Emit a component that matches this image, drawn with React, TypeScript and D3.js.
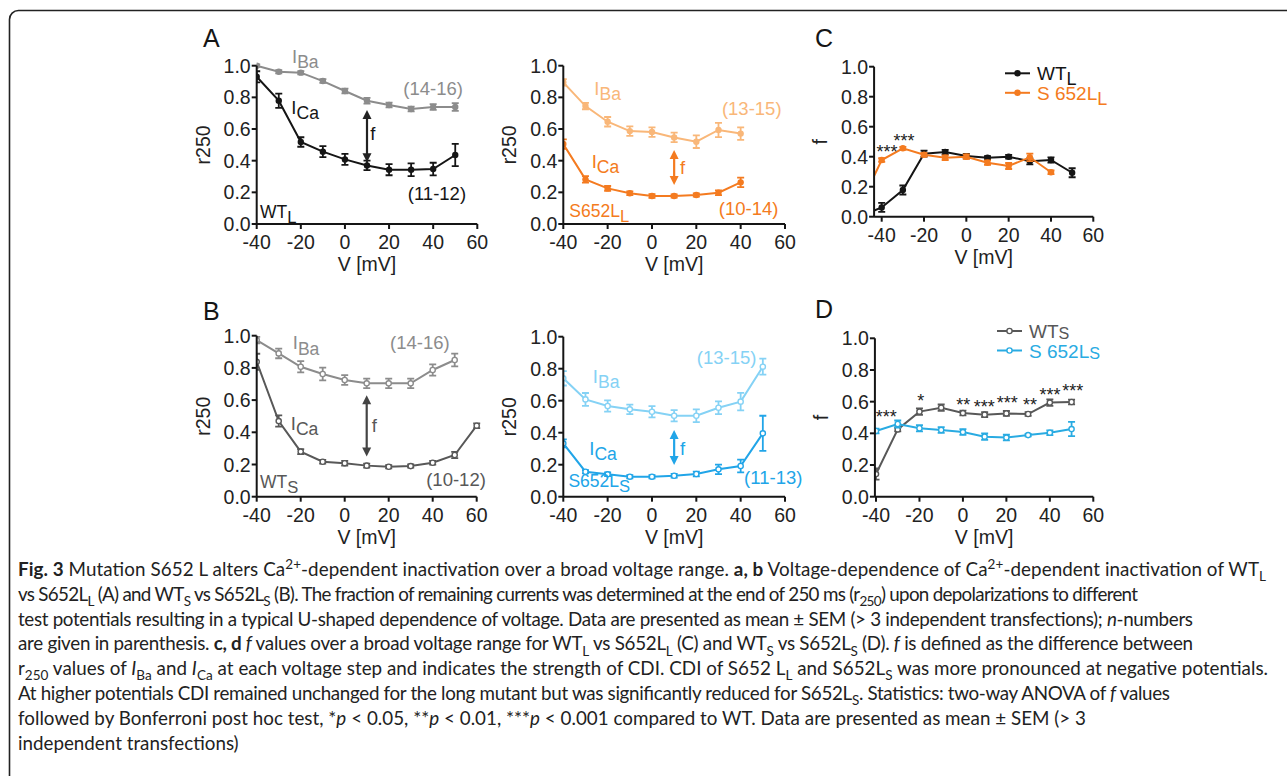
import React from "react";
import * as d3 from "d3";

// voltage steps (mV)
const volts = [-40, -30, -20, -10, 0, 10, 20, 30, 40, 50];
const volts9 = volts.slice(0, 9);
const volts11 = [...volts, 60];
const voltsC = [-45, ...volts]; // curves in C run off the left edge
const voltsC9 = [-45, ...volts9];

// A: WT_L
const wtL_Ba = [1.0, 0.962, 0.956, 0.903, 0.84, 0.779, 0.752, 0.726, 0.739, 0.739];
const wtL_BaSem = [0.008, 0.01, 0.01, 0.012, 0.015, 0.018, 0.015, 0.015, 0.018, 0.025];
const wtL_Ca = [0.93, 0.779, 0.518, 0.457, 0.408, 0.37, 0.343, 0.343, 0.347, 0.436];
const wtL_CaSem = [0.035, 0.045, 0.03, 0.035, 0.035, 0.03, 0.035, 0.04, 0.04, 0.07];

// A: S652L_L
const sL_Ba = [0.895, 0.745, 0.646, 0.587, 0.581, 0.547, 0.52, 0.594, 0.571];
const sL_BaSem = [0.02, 0.02, 0.03, 0.03, 0.03, 0.03, 0.04, 0.045, 0.04];
const sL_Ca = [0.505, 0.282, 0.225, 0.194, 0.177, 0.177, 0.183, 0.198, 0.263];
const sL_CaSem = [0.03, 0.02, 0.015, 0.012, 0.012, 0.01, 0.01, 0.015, 0.03];

// C: f, long variants
const fWTL = [0.032, 0.062, 0.178, 0.42, 0.431, 0.404, 0.393, 0.4, 0.369, 0.378, 0.293];
const fWTLSem = [0, 0.03, 0.03, 0.02, 0.015, 0.015, 0.01, 0.012, 0.02, 0.018, 0.03];
const fSL = [0.23, 0.378, 0.456, 0.413, 0.393, 0.4, 0.36, 0.338, 0.396, 0.296];
const fSLSem = [0, 0.012, 0.01, 0.012, 0.015, 0.015, 0.015, 0.02, 0.025, 0.012];

// B: WT_S
const wtS_Ba = [0.973, 0.89, 0.807, 0.762, 0.725, 0.704, 0.704, 0.704, 0.787, 0.849];
const wtS_BaSem = [0.02, 0.03, 0.035, 0.04, 0.03, 0.03, 0.03, 0.03, 0.035, 0.04];
const wtS_Ca = [0.838, 0.47, 0.28, 0.217, 0.208, 0.193, 0.186, 0.19, 0.211, 0.259, 0.441];
const wtS_CaSem = [0.05, 0.035, 0.015, 0.012, 0.015, 0.012, 0.01, 0.01, 0.012, 0.02, 0.015];

// B: S652L_S
const sS_Ba = [0.74, 0.608, 0.567, 0.546, 0.531, 0.506, 0.506, 0.556, 0.594, 0.8125];
const sS_BaSem = [0.045, 0.04, 0.035, 0.03, 0.035, 0.035, 0.04, 0.04, 0.055, 0.05];
const sS_Ca = [0.333, 0.156, 0.14, 0.125, 0.125, 0.131, 0.142, 0.171, 0.192, 0.396];
const sS_CaSem = [0.025, 0.01, 0.012, 0.01, 0.01, 0.012, 0.015, 0.03, 0.04, 0.11];

// D: f, short variants
const fWTS = [0.143, 0.425, 0.537, 0.562, 0.528, 0.518, 0.526, 0.522, 0.594, 0.598];
const fWTSSem = [0.035, 0.012, 0.02, 0.02, 0.015, 0.015, 0.015, 0.012, 0.02, 0.015];
const fSLS = [0.415, 0.459, 0.432, 0.421, 0.408, 0.379, 0.373, 0.389, 0.404, 0.427];
const fSLSSem = [0.015, 0.022, 0.02, 0.018, 0.018, 0.02, 0.018, 0.008, 0.015, 0.045];

// significance marks [V, f at centre of the stars, text]
const starsC = [[-37.5, 0.456, "***"], [-29.5, 0.529, "***"]];
const starsD = [
  [-35.3, 0.526, "***"], [-19.4, 0.63, "*"], [0.2, 0.605, "**"], [9.8, 0.594, "***"],
  [20.4, 0.615, "***"], [30.9, 0.605, "**"], [40.1, 0.67, "***"], [50.5, 0.69, "***"],
];

const xTicks = [-40, -20, 0, 20, 40, 60];
const yTicks = [0, 0.2, 0.4, 0.6, 0.8, 1.0];

const caption = [
  [["Fig. 3", "b"], [" Mutation S652 L alters Ca"], ["2+", "sup"], ["-dependent inactivation over a broad voltage range. "], ["a, b", "b"], [" Voltage-dependence of Ca"], ["2+", "sup"], ["-dependent inactivation of WT"], ["L", "sub"]],
  [["vs S652L"], ["L", "sub"], [" (A) and WT"], ["S", "sub"], [" vs S652L"], ["S", "sub"], [" (B). The fraction of remaining currents was determined at the end of 250 ms (r"], ["250", "sub"], [") upon depolarizations to different"]],
  [["test potentials resulting in a typical U-shaped dependence of voltage. Data are presented as mean ± SEM (> 3 independent transfections); "], ["n", "i"], ["-numbers"]],
  [["are given in parenthesis. "], ["c, d", "b"], [" "], ["f", "i"], [" values over a broad voltage range for WT"], ["L", "sub"], [" vs S652L"], ["L", "sub"], [" (C) and WT"], ["S", "sub"], [" vs S652L"], ["S", "sub"], [" (D). "], ["f", "i"], [" is defined as the difference between"]],
  [["r"], ["250", "sub"], [" values of "], ["I", "i"], ["Ba", "sub"], [" and "], ["I", "i"], ["Ca", "sub"], [" at each voltage step and indicates the strength of CDI. CDI of S652 L"], ["L", "sub"], [" and S652L"], ["S", "sub"], [" was more pronounced at negative potentials."]],
  [["At higher potentials CDI remained unchanged for the long mutant but was significantly reduced for S652L"], ["S", "sub"], [". Statistics: two-way ANOVA of "], ["f", "i"], [" values"]],
  [["followed by Bonferroni post hoc test, *"], ["p", "i"], [" < 0.05, **"], ["p", "i"], [" < 0.01, ***"], ["p", "i"], [" < 0.001 compared to WT. Data are presented as mean ± SEM (> 3"]],
  [["independent transfections)"]],
];
// width of each caption line as set in the figure
const captionWidths = [1248, 1120, 1175, 1175, 1250, 1152, 1068, 0];

const FONT = "'Liberation Sans', Arial, sans-serif";
const CAP_FONT = "Lato, 'Open Sans', sans-serif";

const BLACK = "#151515";
const GRAY = "#8c8c8c";
const DGRAY = "#585858";
const ORANGE = "#f47b20";
const LORANGE = "#f9b779";
const BLUE = "#21a5e8";
const LBLUE = "#85d2f5";

function Rich({ x, y, segs, size, fill, anchor = "start", family = FONT, subScale = 0.95, shift = 0.28, width = 0 }) {
  let cur = 0;
  const spans = segs.map(([t, st], i) => {
    const small = st === "sub" || st === "sup";
    const target = st === "sub" ? shift * size : st === "sup" ? -0.38 * size : 0;
    const dy = target - cur;
    cur = target;
    return (
      <tspan key={i} dy={dy} fontSize={small ? size * subScale : undefined}
        fontWeight={st === "b" ? "bold" : undefined} fontStyle={st === "i" ? "italic" : undefined}>
        {t}
      </tspan>
    );
  });
  return (
    <text x={x} y={y} fontSize={size} fill={fill} textAnchor={anchor} fontFamily={family}
      style={{ whiteSpace: "pre" }} textLength={width || undefined} lengthAdjust={width ? "spacing" : undefined}>
      {spans}
    </text>
  );
}

function Panel({ p, idx }) {
  const x = d3.scaleLinear().domain([-40, 60]).range([p.left, p.right]);
  const y = d3.scaleLinear().domain([0, 1]).range([p.bottom, p.top]);
  const x0 = x(p.xMin);
  const line = d3.line().x((d) => x(d[0])).y((d) => y(d[1]));
  const clipId = `clip-${idx}`;
  const yl = x0 - 47;
  return (
    <g>
      {p.id && <text x={p.letter[0]} y={p.letter[1]} fontSize={25} fontFamily={FONT} fill={BLACK}>{p.id}</text>}
      <clipPath id={clipId}>
        <rect x={x0} y={p.top - 30} width={p.right - x0 + 30} height={p.bottom - p.top + 40} />
      </clipPath>
      <g clipPath={`url(#${clipId})`}>
        {p.series.map((s, k) => (
          <g key={k}>
            <path d={line(s.v.map((v, i) => [v, s.y[i]]))} fill="none" stroke={s.color} strokeWidth={2} />
            {s.v.map((v, i) => s.sem[i] > 0 && (
              <g key={i} stroke={s.color} strokeWidth={1.8}>
                <line x1={x(v)} x2={x(v)} y1={y(s.y[i] - s.sem[i])} y2={y(s.y[i] + s.sem[i])} />
                <line x1={x(v) - 3.5} x2={x(v) + 3.5} y1={y(s.y[i] - s.sem[i])} y2={y(s.y[i] - s.sem[i])} />
                <line x1={x(v) - 3.5} x2={x(v) + 3.5} y1={y(s.y[i] + s.sem[i])} y2={y(s.y[i] + s.sem[i])} />
              </g>
            ))}
            {s.v.map((v, i) => (
              <circle key={i} cx={x(v)} cy={y(s.y[i])} r={s.open ? 2.6 : 3.2}
                fill={s.open ? "#fff" : s.color} stroke={s.color} strokeWidth={s.open ? 1.4 : 0} />
            ))}
          </g>
        ))}
      </g>
      {/* axes */}
      <g stroke={BLACK} strokeWidth={2}>
        <line x1={x0} x2={x(60)} y1={p.bottom} y2={p.bottom} />
        <line x1={x0} x2={x0} y1={p.bottom} y2={y(1)} />
        {xTicks.map((t) => <line key={t} x1={x(t)} x2={x(t)} y1={p.bottom} y2={p.bottom + 5} />)}
        {yTicks.map((t) => <line key={t} x1={x0 - 5} x2={x0} y1={y(t)} y2={y(t)} />)}
      </g>
      <g fontFamily={FONT} fontSize={19.5} fill="#222">
        {xTicks.map((t) => <text key={t} x={x(t)} y={p.bottom + 25} textAnchor="middle">{t}</text>)}
        {yTicks.map((t) => <text key={t} x={x0 - 6} y={y(t) + 7} textAnchor="end">{d3.format(".1f")(t)}</text>)}
        <text x={(x0 + x(60)) / 2} y={p.bottom + 47} textAnchor="middle">V [mV]</text>
        <text x={yl} y={(p.top + p.bottom) / 2} textAnchor="middle"
          transform={`rotate(-90,${yl},${(p.top + p.bottom) / 2})`}>{p.ylabel}</text>
      </g>
      {(p.labels || []).map((l, i) => (
        <Rich key={i} x={x(l.v)} y={y(l.r)} segs={l.segs} size={l.size || 18.5} fill={l.color} anchor={l.anchor || "start"} />
      ))}
      {(p.arrows || []).map((a, i) => {
        const xa = x(a.v), ya = y(a.from), yb = y(a.to);
        return (
          <g key={i} fill={a.color} stroke="none">
            <line x1={xa} x2={xa} y1={ya + 7} y2={yb - 7} stroke={a.color} strokeWidth={2.2} />
            <path d={`M${xa},${ya}L${xa - 4.5},${ya + 9}L${xa + 4.5},${ya + 9}Z`} />
            <path d={`M${xa},${yb}L${xa - 4.5},${yb - 9}L${xa + 4.5},${yb - 9}Z`} />
          </g>
        );
      })}
      {(p.stars || []).map(([v, r, t], i) => (
        <text key={i} x={x(v)} y={y(r) + 10} textAnchor="middle" fontFamily={FONT} fontSize={18} fill="#222">{t}</text>
      ))}
      {p.legend && p.legend.items.map((it, i) => {
        const lx = p.legend.x, ly = p.legend.y + i * 19.5;
        return (
          <g key={i}>
            <line x1={lx} x2={lx + 25} y1={ly} y2={ly} stroke={it.color} strokeWidth={2} />
            <circle cx={lx + 12.5} cy={ly} r={it.open ? 2.6 : 3.2} fill={it.open ? "#fff" : it.color}
              stroke={it.color} strokeWidth={it.open ? 1.4 : 0} />
            <Rich x={lx + 32} y={ly + 7} segs={it.segs} size={19} fill={it.color} shift={it.shift ?? 0.25} subScale={it.subScale ?? 0.95} />
          </g>
        );
      })}
    </g>
  );
}

const panels = [
  {
    id: "A", letter: [203, 47], left: 256.7, right: 477.3, top: 65.7, bottom: 224, xMin: -40, ylabel: "r250",
    series: [
      { v: volts, y: wtL_Ba, sem: wtL_BaSem, color: GRAY },
      { v: volts, y: wtL_Ca, sem: wtL_CaSem, color: BLACK },
    ],
    labels: [
      { v: -24, r: 1.02, segs: [["I"], ["Ba", "sub"]], color: GRAY },
      { v: 40, r: 0.815, segs: [["(14-16)"]], color: GRAY, anchor: "middle" },
      { v: -24.3, r: 0.695, segs: [["I"], ["Ca", "sub"]], color: BLACK },
      { v: 11.5, r: 0.53, segs: [["f"]], color: BLACK },
      { v: 41.7, r: 0.15, segs: [["(11-12)"]], color: BLACK, anchor: "middle" },
      { v: -38.5, r: 0.036, segs: [["WT"], ["L", "sub"]], color: BLACK, size: 17.5 },
    ],
    arrows: [{ v: 10, from: 0.72, to: 0.39, color: "#222" }],
  },
  {
    id: "", letter: [0, 0], left: 563.3, right: 785, top: 65.7, bottom: 224, xMin: -40, ylabel: "r250",
    series: [
      { v: volts9, y: sL_Ba, sem: sL_BaSem, color: LORANGE },
      { v: volts9, y: sL_Ca, sem: sL_CaSem, color: ORANGE },
    ],
    labels: [
      { v: -26, r: 0.815, segs: [["I"], ["Ba", "sub"]], color: LORANGE },
      { v: 45, r: 0.69, segs: [["(13-15)"]], color: LORANGE, anchor: "middle" },
      { v: -27.2, r: 0.354, segs: [["I"], ["Ca", "sub"]], color: ORANGE },
      { v: 12.6, r: 0.316, segs: [["f"]], color: ORANGE },
      { v: 43.6, r: 0.057, segs: [["(10-14)"]], color: ORANGE, anchor: "middle" },
      { v: -37.3, r: 0.046, segs: [["S652L"], ["L", "sub"]], color: ORANGE, size: 17.5 },
    ],
    arrows: [{ v: 10, from: 0.467, to: 0.246, color: ORANGE }],
  },
  {
    id: "C", letter: [815, 47], left: 881.7, right: 1093.3, top: 66.7, bottom: 216.7, xMin: -43.6, ylabel: "f",
    series: [
      { v: voltsC, y: fWTL, sem: fWTLSem, color: BLACK },
      { v: voltsC9, y: fSL, sem: fSLSem, color: ORANGE },
    ],
    stars: starsC,
    legend: {
      x: 1005, y: 73.3, items: [
        { segs: [["WT"], ["L", "sub"]], color: BLACK },
        { segs: [["S 652L"], ["L", "sub"]], color: ORANGE },
      ],
    },
  },
  {
    id: "B", letter: [203, 320], left: 256.7, right: 476.7, top: 335.7, bottom: 496.7, xMin: -40, ylabel: "r250",
    series: [
      { v: volts, y: wtS_Ba, sem: wtS_BaSem, color: GRAY, open: true },
      { v: volts11, y: wtS_Ca, sem: wtS_CaSem, color: DGRAY, open: true },
    ],
    labels: [
      { v: -23.6, r: 0.915, segs: [["I"], ["Ba", "sub"]], color: GRAY },
      { v: 34.2, r: 0.915, segs: [["(14-16)"]], color: GRAY, anchor: "middle" },
      { v: -24.5, r: 0.414, segs: [["I"], ["Ca", "sub"]], color: DGRAY },
      { v: 12.3, r: 0.4, segs: [["f"]], color: DGRAY },
      { v: 50.6, r: 0.066, segs: [["(10-12)"]], color: DGRAY, anchor: "middle" },
      { v: -38.5, r: 0.052, segs: [["WT"], ["S", "sub"]], color: DGRAY, size: 17.5 },
    ],
    arrows: [{ v: 10, from: 0.63, to: 0.25, color: "#444" }],
  },
  {
    id: "", letter: [0, 0], left: 563.3, right: 785, top: 336.7, bottom: 496.7, xMin: -40, ylabel: "r250",
    series: [
      { v: volts, y: sS_Ba, sem: sS_BaSem, color: LBLUE, open: true },
      { v: volts, y: sS_Ca, sem: sS_CaSem, color: BLUE, open: true },
    ],
    labels: [
      { v: 33.7, r: 0.83, segs: [["(13-15)"]], color: LBLUE, anchor: "middle" },
      { v: -26.7, r: 0.71, segs: [["I"], ["Ba", "sub"]], color: LBLUE },
      { v: -28.3, r: 0.26, segs: [["I"], ["Ca", "sub"]], color: BLUE },
      { v: 12.6, r: 0.26, segs: [["f"]], color: BLUE },
      { v: 54.7, r: 0.08, segs: [["(11-13)"]], color: BLUE, anchor: "middle" },
      { v: -37.7, r: 0.0625, segs: [["S652L"], ["S", "sub"]], color: BLUE, size: 17.5 },
    ],
    arrows: [{ v: 10, from: 0.417, to: 0.198, color: BLUE }],
  },
  {
    id: "D", letter: [815, 318], left: 876, right: 1093.3, top: 338.3, bottom: 496.7, xMin: -40.5, ylabel: "f",
    series: [
      { v: volts, y: fWTS, sem: fWTSSem, color: DGRAY, open: true },
      { v: volts, y: fSLS, sem: fSLSSem, color: "#29abe2", open: true },
    ],
    stars: starsD,
    legend: {
      x: 997, y: 331, items: [
        { segs: [["WT"], ["S", "sub"]], color: DGRAY, open: true, shift: 0.06, subScale: 0.85 },
        { segs: [["S 652L"], ["S", "sub"]], color: "#29abe2", open: true, shift: 0.06, subScale: 0.85 },
      ],
    },
  },
];

export default function App() {
  return (
    <svg width={1287} height={776} style={{ position: "absolute", left: 0, top: 0, background: "#fff" }}>
      <rect x={9.5} y={10.5} width={1400} height={900} rx={9} fill="none" stroke="#222" strokeWidth={1.6} />
      {panels.map((p, i) => <Panel key={i} idx={i} p={p} />)}
      {caption.map((segs, i) => (
        <Rich key={i} x={18} y={576 + i * 24.8} segs={segs} size={18.8} fill="#222" family={CAP_FONT}
          subScale={0.72} shift={0.28} width={captionWidths[i]} />
      ))}
    </svg>
  );
}
